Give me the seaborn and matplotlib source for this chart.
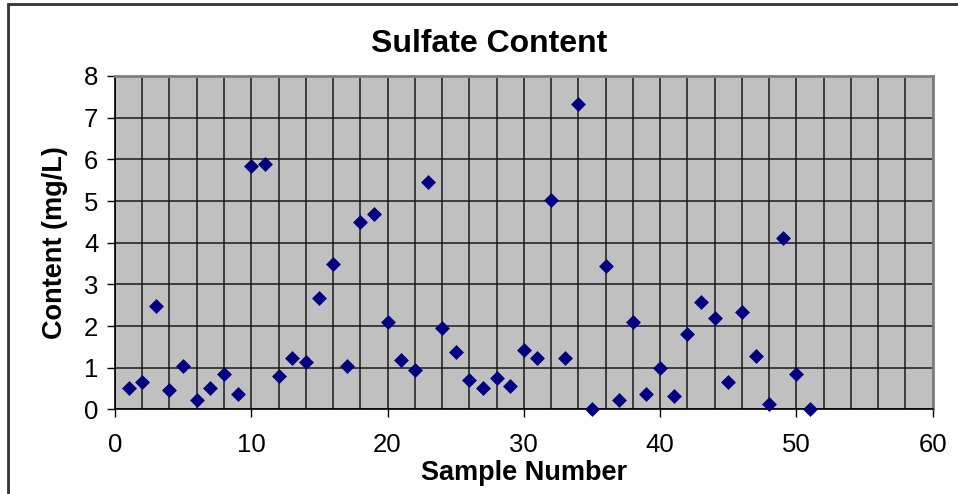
import matplotlib
matplotlib.use('Agg')
import matplotlib.pyplot as plt
from matplotlib.patches import Rectangle
from matplotlib.ticker import MultipleLocator
import pandas as pd
import seaborn as sns

sample_number = list(range(1, 52))
sulfate = [0.52, 0.66, 2.48, 0.47, 1.04, 0.22, 0.52, 0.85, 0.36, 5.85,
           5.90, 0.80, 1.23, 1.14, 2.68, 3.49, 1.04, 4.50, 4.70, 2.10,
           1.19, 0.95, 5.46, 1.95, 1.38, 0.71, 0.52, 0.76, 0.56, 1.43,
           1.23, 5.03, 1.23, 7.33, 0.00, 3.44, 0.22, 2.10, 0.37, 0.99,
           0.32, 1.82, 2.58, 2.19, 0.66, 2.34, 1.28, 0.13, 4.12, 0.85,
           0.00]

df = pd.DataFrame({'Sample Number': sample_number, 'Content': sulfate})

plt.rcParams['font.family'] = ['Liberation Sans', 'DejaVu Sans']

fig = plt.figure(figsize=(9.58, 4.94), dpi=100)
ax = fig.add_axes([0.12, 0.1711, 0.8536, 0.6751])
ax.set_facecolor('#c0c0c0')

sns.scatterplot(data=df, x='Sample Number', y='Content', ax=ax,
                marker='D', s=50, color='#000080', edgecolor='#000080',
                linewidth=0.5, zorder=3, clip_on=False)

ax.set_xlim(0, 60)
ax.set_ylim(0, 8)
ax.xaxis.set_major_locator(MultipleLocator(10))
ax.xaxis.set_minor_locator(MultipleLocator(2))
ax.yaxis.set_major_locator(MultipleLocator(1))

ax.grid(which='minor', axis='x', color='#1a1a1a', linewidth=1.1, zorder=1)
ax.grid(which='major', axis='x', color='#1a1a1a', linewidth=1.1, zorder=1)
ax.grid(which='major', axis='y', color='#1a1a1a', linewidth=1.1, zorder=1)
ax.set_axisbelow(True)

ax.tick_params(axis='both', which='major', direction='out', length=6,
               width=1, color='black', labelsize=18.5)
ax.tick_params(axis='x', which='major', pad=11)
ax.tick_params(axis='y', which='major', pad=6)
ax.tick_params(axis='x', which='minor', length=0)

for side in ['left', 'bottom']:
    ax.spines[side].set_color('black')
    ax.spines[side].set_linewidth(1.2)
for side in ['top', 'right']:
    ax.spines[side].set_color('#808080')
    ax.spines[side].set_linewidth(2)

ax.set_xlabel('Sample Number', fontsize=19.5, fontweight='bold')
ax.set_ylabel('Content (mg/L)', fontsize=19.5, fontweight='bold')
ax.xaxis.set_label_coords(0.5, -0.152)
ax.yaxis.set_label_coords(-0.0575, 0.5)

fig.text(489.5 / 958, 1 - 43.5 / 494, 'Sulfate Content', ha='center',
         va='center', fontsize=23, fontweight='bold')

# chart border like the spreadsheet frame
fig.patches.append(Rectangle((8 / 958, -0.1), 1.2, 1 - 4 / 494 + 0.1,
                             transform=fig.transFigure, fill=False,
                             edgecolor='#333333', linewidth=2))

fig.savefig('out.png', dpi=100)
